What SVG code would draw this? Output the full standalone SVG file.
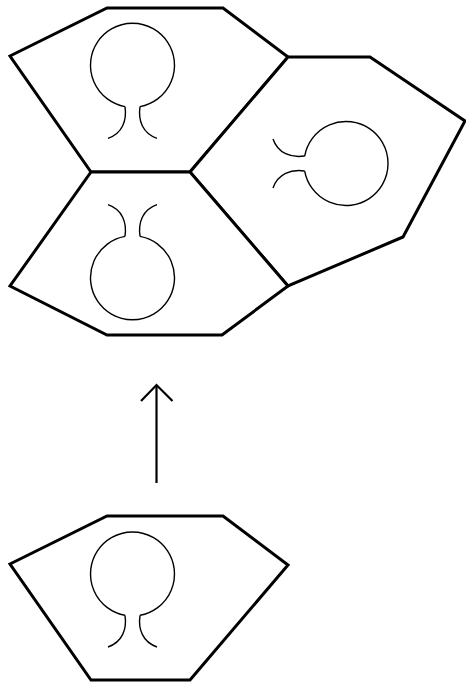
<svg xmlns="http://www.w3.org/2000/svg" width="466" height="683" viewBox="0 0 466 683">
<style>
.cell{fill:#fff;stroke:#000;stroke-width:3;stroke-linejoin:miter}
.bulb{fill:none;stroke:#000;stroke-width:1.4}
.arrow{fill:none;stroke:#000;stroke-width:2.2}
</style>
<defs>
<g id="bulbShape">
<path class="bulb" d="M-7.5,41.3 A42,42 0 1 1 7.5,41.3"/>
<path class="bulb" d="M-7.5,41.3 C-5.5,55 -10,68 -24.5,73"/>
<path class="bulb" d="M7.5,41.3 C5.5,55 10,68 24.5,73"/>
</g>
</defs>
<rect width="466" height="683" fill="#fff"/>
<g id="cell-top">
<polygon class="cell" points="107,8 223,8 288,57 190,172 91,172 10,56"/>
<use href="#bulbShape" transform="translate(132.5,65.3)"/>
</g>
<g id="cell-right">
<polygon class="cell" points="190,172 288,57 370,57 465,121 403,237 288,286"/>
<use href="#bulbShape" transform="translate(346,163.5) rotate(90)"/>
</g>
<g id="cell-bottom-left">
<polygon class="cell" points="91,172 190,172 288,286 222,335 107,335 10,286"/>
<use href="#bulbShape" transform="translate(132.5,277.7) scale(1,-1)"/>
</g>
<g id="cell-single">
<polygon class="cell" points="107,516 223,516 288,565 190,680 91,680 10,564"/>
<use href="#bulbShape" transform="translate(132.5,574)"/>
</g>
<g id="connectors">
<path class="arrow" d="M156.5,483 V385"/>
<path class="arrow" d="M141,401 L156.5,385 L172.5,401"/>
</g>
</svg>
